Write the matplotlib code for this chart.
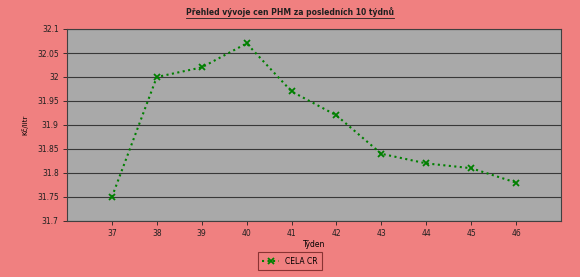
import matplotlib.pyplot as plt

# weekly fuel prices (CZK per litre)
weeks = [37, 38, 39, 40, 41, 42, 43, 44, 45, 46]
prices = [31.75, 32.00, 32.02, 32.07, 31.97, 31.92, 31.84, 31.82, 31.81, 31.78]
yticks = [31.7, 31.75, 31.8, 31.85, 31.9, 31.95, 32.0, 32.05, 32.1]
ytick_labels = ['31.7', '31.75', '31.8', '31.85', '31.9', '31.95', '32', '32.05', '32.1']

bg = '#F08080'

fig = plt.figure(figsize=(5.8, 2.77), dpi=100, facecolor=bg)
ax = fig.add_axes([67 / 580, 1 - 221 / 277, (561 - 67) / 580, (221 - 29) / 277])
ax.set_facecolor('#A9A9A9')

ax.plot(weeks, prices, color='#008000', linestyle=':', linewidth=1.5,
        marker='x', markersize=4, markeredgewidth=1.3, label='CELA CR')

ax.set_xlim(36, 47)
ax.set_ylim(31.7, 32.1)
ax.set_xticks(weeks)
ax.set_xticklabels([str(w) for w in weeks])
ax.set_yticks(yticks)
ax.set_yticklabels(ytick_labels)
ax.tick_params(labelsize=5.5, colors='#202020', length=3, width=0.6, pad=3)
ax.grid(axis='y', color='#383838', linewidth=0.8)
ax.set_axisbelow(True)
for s in ax.spines.values():
    s.set_color('#404040')
    s.set_linewidth(0.8)

ax.set_xlabel('Týden', fontsize=5.5, labelpad=1)
ax.set_ylabel('Kč/litr', fontsize=5, labelpad=6)

fig.text(0.5, 1 - 12 / 277, 'Přehled vývoje cen PHM za posledních 10 týdnů',
         ha='center', va='center', fontsize=5.5, fontweight='bold',
         color='#202020')
# underline for the title
title = fig.texts[0]
fig.canvas.draw()
bb = title.get_window_extent()
fig.add_artist(plt.Line2D([bb.x0 / 580, bb.x1 / 580],
                          [(bb.y0 - 1) / 277, (bb.y0 - 1) / 277],
                          color='#202020', linewidth=0.6))

leg = ax.legend(loc='center', bbox_to_anchor=(290 / 580, 1 - 261 / 277),
                bbox_transform=fig.transFigure, fontsize=5.5, frameon=True,
                fancybox=False, handlelength=2.2, borderpad=0.6)
leg.get_frame().set_facecolor(bg)
leg.get_frame().set_edgecolor('#702020')
leg.get_frame().set_linewidth(0.8)

fig.savefig('out.png', dpi=100, facecolor=bg)
